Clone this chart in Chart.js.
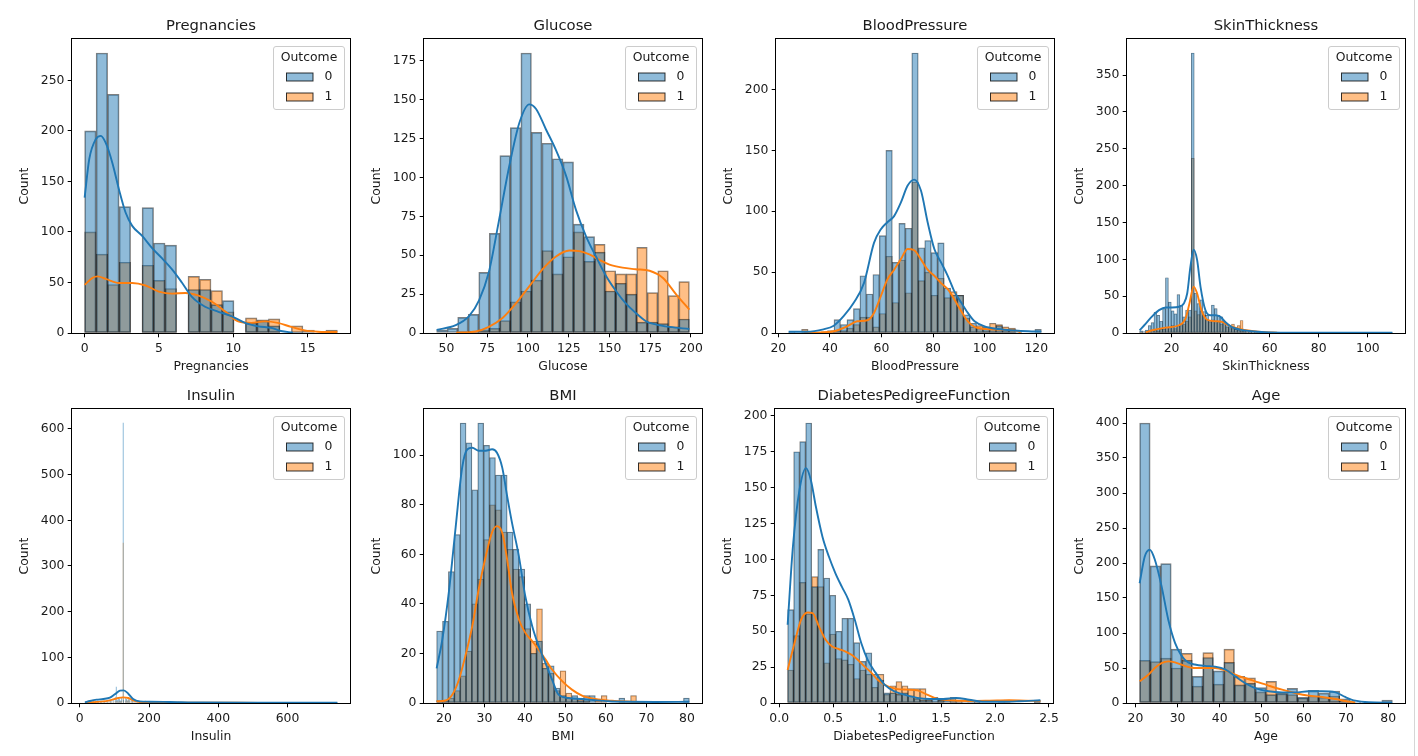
<!DOCTYPE html>
<html>
<head>
<meta charset="utf-8">
<script src="https://cdn.jsdelivr.net/npm/chart.js@4.4.1/dist/chart.umd.min.js"></script>
<style>
    html, body { margin: 0; padding: 0; background: #fff; }
    body { width: 1418px; height: 756px; position: relative; overflow: hidden; }
    canvas { position: absolute; }
    .edge { position: absolute; left: 1414px; top: 0; width: 1px; height: 756px; background: #d6d6d6; }
</style>
</head>
<body>
<div class="edge"></div>
<script>
// ── Datos ──
const outcomeLabels = ['0', '1'];

// Pregnancies: 22 bins entre 0 y 17
const pregRange  = [0, 17];
const pregBlue   = [200, 277, 236, 125, 0, 124, 89, 87, 0, 43, 43, 28, 32, 0, 10, 12, 7, 0, 1, 0, 0, 0];
const pregOrange = [100, 78, 48, 70, 0, 67, 52, 44, 0, 56, 53, 42, 21, 0, 15, 13, 14, 0, 7, 3, 0, 3];
const pregKdeBlueX   = [0, 0.31, 0.76, 1.09, 1.42, 1.87, 2.31, 2.76, 3.2, 3.87, 4.54, 5.2, 5.88, 6.54, 7.2, 8.1, 9.0, 9.9, 10.79, 11.68, 12.55, 13.2, 14];
const pregKdeBlueY   = [134, 172, 192, 195, 188, 168, 142, 119, 106, 96, 84, 74, 63, 50, 36, 26, 21, 16.5, 10, 6.6, 5, 2, 0.5];
const pregKdeOrangeX = [0, 0.53, 0.87, 1.42, 2.31, 3.2, 4.1, 4.99, 5.88, 6.77, 7.66, 8.55, 9.44, 10.33, 11.2, 12.1, 13.0, 13.9, 14.8, 15.7, 16.8, 17];
const pregKdeOrangeY = [47.6, 54.5, 56, 53.5, 49.5, 49.5, 47, 41, 39, 39.6, 37, 31, 21.5, 11.5, 10, 11.5, 10, 6, 2.6, 1.3, 1, 1];
const pregXTicks = [0, 5, 10, 15];
const pregYTicks = [0, 50, 100, 150, 200, 250];

// Glucose: 24 bins entre 44 y 199
const gluRange  = [44, 199];
const gluBlue   = [2, 3, 10, 12, 39, 64, 114, 132, 180, 129, 122, 112, 110, 70, 62, 52, 27, 32, 25, 7, 7, 6, 4, 9];
const gluOrange = [0, 0, 0, 1, 2, 3, 8, 20, 27, 34, 53, 38, 49, 65, 46, 57, 40, 38, 38, 55, 26, 40, 24, 33];
const gluKdeBlueX   = [44, 55.7, 64, 70, 76, 82, 88.5, 94.7, 100.8, 105, 111, 117, 123.4, 129.5, 135.7, 141.8, 148, 154, 160, 166, 172.5, 178.7, 187, 199];
const gluKdeBlueY   = [2, 5, 11, 21, 39, 71, 107, 135, 147, 144, 131, 118, 101, 79, 62, 49, 36.5, 27, 19, 13, 7.5, 5.4, 3.9, 2.6];
const gluKdeOrangeX = [56, 68, 76, 84.4, 92.6, 100.8, 109, 117, 125.4, 131.6, 137.7, 143.9, 150, 158, 166, 174.6, 182.8, 191, 199];
const gluKdeOrangeY = [0.2, 1, 4, 9.7, 19, 30, 41, 49, 53, 52.6, 50.5, 47, 44, 42, 41, 40, 35.4, 24.7, 15];
const gluXTicks = [50, 75, 100, 125, 150, 175, 200];
const gluYTicks = [0, 25, 50, 75, 100, 125, 150, 175];

// BloodPressure: 39 bins entre 24 y 122
const bpRange  = [24, 122];
const bpBlue   = [1, 0, 0, 0, 0, 1, 2, 11, 7, 11, 20, 47, 32, 48, 80, 150, 58, 90, 86, 230, 70, 76, 66, 74, 37, 31, 31, 15, 8, 4, 5, 4, 6, 3, 3, 1, 0, 0, 3];
const bpOrange = [0, 0, 3, 0, 0, 0, 1, 2, 2, 4, 7, 13, 13, 5, 16, 63, 25, 60, 33, 124, 43, 50, 31, 45, 29, 34, 31, 12, 5, 6, 2, 8, 7, 5, 4, 0, 0, 0, 0];
const bpKdeBlueX   = [24, 31, 37.5, 41.5, 45.4, 49.3, 53.2, 57.1, 59.7, 62.3, 64.9, 67.5, 70.1, 72.7, 75.3, 77.9, 80.5, 83.1, 85.7, 88.3, 90.9, 93.5, 96.1, 100, 105.2, 111.7, 116.9, 122];
const bpKdeBlueY   = [1, 1, 3, 6, 14, 25, 41, 74, 85, 91, 96, 107, 121, 126, 117, 91, 69, 58, 47, 34, 25, 16.5, 9.6, 5.5, 3.3, 2, 1.4, 1.1];
const bpKdeOrangeX = [30, 36.2, 41.5, 46.7, 50.6, 54.5, 57.1, 59.7, 62.3, 64.9, 67.5, 70.1, 72.7, 75.3, 77.9, 80.5, 83.1, 85.7, 88.3, 90.9, 93.5, 96.1, 100, 105.2, 111.7, 114];
const bpKdeOrangeY = [0.3, 0.5, 1.4, 5.5, 9.6, 10.5, 16.5, 30, 44, 52, 60.5, 69, 68, 60.5, 52, 47, 41, 36, 27.5, 18, 9.6, 5, 3.3, 2.8, 2.2, 0.5];
const bpXTicks = [20, 40, 60, 80, 100, 120];
const bpYTicks = [0, 50, 100, 150, 200];

// SkinThickness: 88 bins entre 7 y 110
const skinRange  = [7, 110];
const skinBlue   = [3, 2, 4, 10, 14, 28, 24, 16, 33, 75,
                    42, 30, 26, 52, 38, 22, 31, 31, 380, 54,
                    40, 45, 29, 24, 17, 38, 33, 24, 22, 15,
                    10, 8, 6, 5, 4, 3, 3, 2, 3, 1,
                    2, 1, 0, 1, 0, 1, 0, 1, 0, 0,
                    0, 0, 0, 0, 0, 0, 0, 0, 0, 0,
                    0, 0, 0, 0, 0, 0, 0, 0, 0, 0,
                    0, 0, 0, 0, 0, 0, 0, 0, 1, 0,
                    0, 0, 0, 0, 0, 0, 0, 1];
const skinOrange = [1, 0, 1, 2, 2, 4, 3, 5, 5, 8,
                    6, 10, 6, 10, 10, 12, 16, 22, 237, 30,
                    25, 30, 24, 18, 15, 18, 14, 15, 12, 16,
                    8, 6, 12, 5, 10, 17, 4, 2, 2, 1,
                    1, 0, 0, 1, 0, 0, 0, 0, 0, 0,
                    0, 0, 0, 0, 0, 0, 0, 0, 0, 0,
                    0, 0, 0, 0, 0, 0, 0, 0, 0, 0,
                    0, 0, 0, 0, 0, 0, 0, 0, 0, 0,
                    0, 0, 0, 0, 0, 0, 0, 0];
const skinKdeBlueX   = [7, 9.5, 12.2, 14.9, 17.6, 20.3, 23, 25, 26.4, 27.7, 29, 30.4, 31.8, 33.8, 35.8, 37.8, 39.9, 41.9, 44.6, 48, 52.7, 58.1, 66.2, 80, 95, 110];
const skinKdeBlueY   = [3.7, 12.8, 23, 31, 34.7, 34.7, 35.6, 40, 54, 90, 113, 99.5, 63, 31, 24, 24, 22, 15, 8, 4.6, 2.3, 1, 0.5, 0.3, 0.3, 0.3];
const skinKdeOrangeX = [9.5, 12.2, 17.6, 23, 25.7, 27.3, 29, 30.4, 32.2, 34.5, 37.8, 40.5, 43.2, 47.3, 52.7, 58.1, 63];
const skinKdeOrangeY = [1, 3.7, 7.3, 10.5, 19.6, 40, 63, 54, 31, 18, 16, 15, 10.5, 6, 2.7, 1, 0.5];
const skinXTicks = [20, 40, 60, 80, 100];
const skinYTicks = [0, 50, 100, 150, 200, 250, 300, 350];

// Insulin: bins de ancho 1 entre 14 y 744, solo los no vacíos
const insRange   = [14, 744];
const insCenters = [15.5, 18.5, 24.5, 30.5, 33.5, 39.5, 45.5, 51.5, 54.5, 60.5,
                    63.5, 69.5, 72.5, 78.5, 81.5, 87.5, 90.5, 96.5, 102.5, 105.5,
                    108.5, 111.5, 114.5, 117.5, 120.5, 125.5, 126.5, 132.5, 135.5, 138.5,
                    141.5, 144.5, 150.5, 153.5, 159.5, 165.5, 171.5, 177.5, 183.5, 189.5,
                    198.5, 207.5, 219.5, 231.5, 249.5, 270.5, 285.5, 306.5, 345.5, 405.5,
                    489.5, 549.5, 593.5, 743.5];
const insBlue    = [2, 3, 2, 3, 1, 4, 3, 5, 3, 4,
                    3, 5, 4, 6, 3, 7, 4, 8, 12, 35,
                    6, 10, 8, 5, 12, 613, 6, 10, 8, 5,
                    12, 6, 7, 4, 5, 3, 4, 2, 3, 2,
                    2, 3, 2, 2, 1, 1, 2, 1, 1, 1,
                    1, 0, 1, 1];
const insOrange  = [0, 1, 0, 1, 0, 1, 2, 1, 1, 2,
                    0, 1, 2, 2, 1, 3, 2, 2, 3, 4,
                    3, 2, 4, 3, 4, 350, 5, 4, 7, 4,
                    6, 3, 5, 3, 6, 4, 3, 3, 2, 4,
                    2, 1, 1, 2, 1, 0, 1, 0, 1, 0,
                    0, 1, 0, 0];
const insKdeBlueX   = [15, 29.5, 49, 68, 87, 101, 116, 127, 140, 154, 173, 202, 260, 356, 549, 744];
const insKdeBlueY   = [1.5, 4.4, 7.3, 8.8, 11.7, 19, 27, 27.7, 20.4, 8.8, 3.6, 2.9, 2.2, 1, 0.7, 0.7];
const insKdeOrangeX = [15, 29.5, 58, 87, 111, 125, 140, 154, 173, 212, 308, 453, 600];
const insKdeOrangeY = [0.8, 1.5, 2.9, 5.8, 11, 12.4, 11, 5.8, 2.2, 1, 0.7, 0.4, 0.3];
const insXTicks = [0, 200, 400, 600];
const insYTicks = [0, 100, 200, 300, 400, 500, 600];

// BMI: 43 bins entre 18.2 y 80.6
const bmiRange  = [18.2, 80.6];
const bmiBlue   = [29, 33, 53, 68, 113, 105, 86, 113, 104, 99, 92, 92, 69, 62, 54, 40, 20, 25, 14, 15, 6, 3, 2, 3, 1, 3, 3, 0, 0, 0, 0, 2, 0, 0, 0, 0, 0, 0, 0, 0, 0, 0, 2];
const bmiOrange = [1, 1, 2, 5, 11, 21, 40, 50, 66, 80, 78, 69, 62, 54, 51, 30, 25, 38, 16, 12, 5, 13, 4, 2, 2, 1, 0, 1, 3, 0, 0, 0, 0, 3, 0, 0, 0, 0, 0, 0, 0, 0, 0];
const bmiKdeBlueX   = [18.2, 19.6, 21.2, 22.9, 24.5, 25.8, 27, 28.6, 30.3, 31.9, 33.1, 34.4, 35.6, 36.8, 38.5, 40.1, 41.8, 43.4, 45.1, 46.7, 48.3, 50.8, 54.1, 57.4, 60.7, 65.6, 72.2, 80.6];
const bmiKdeBlueY   = [14, 25.6, 44.5, 71, 95, 102.4, 103, 101.8, 101.8, 102.4, 101, 95, 83.6, 72.8, 59.3, 43, 31, 23, 16, 9.4, 3.4, 2, 1.6, 1.1, 0.7, 0.5, 0.4, 0.5];
const bmiKdeOrangeX = [18.2, 20.4, 22.1, 23.7, 25.3, 27, 28.6, 30.3, 31.9, 33.1, 34.4, 35.6, 36.8, 38.5, 40.1, 41.8, 43.4, 45.1, 46.7, 49.2, 51.6, 54.1, 57.4, 61.5, 66.4, 69.7];
const bmiKdeOrangeY = [0.7, 1, 3.4, 9.4, 19, 31, 46, 59, 69, 71.4, 68.7, 58, 44.5, 33.7, 28.3, 25, 21.6, 17.5, 13.5, 8.8, 5.4, 3, 1.6, 0.9, 0.5, 0.3];
const bmiXTicks = [20, 30, 40, 50, 60, 70, 80];
const bmiYTicks = [0, 20, 40, 60, 80, 100];

// DiabetesPedigreeFunction: 42 bins entre 0.078 y 2.42
const dpfRange  = [0.078, 2.42];
const dpfBlue   = [65, 175, 182, 195, 81, 107, 87, 75, 50, 59, 59, 42, 29, 35, 20, 16, 7, 7, 6, 7, 5, 3, 2, 2, 4, 2, 2, 4, 1, 1, 2, 1, 0, 0, 0, 1, 0, 0, 0, 0, 0, 1];
const dpfOrange = [23, 47, 84, 62, 88, 81, 28, 48, 31, 30, 27, 17, 23, 20, 11, 20, 6, 12, 15, 12, 10, 10, 10, 3, 1, 2, 0, 1, 1, 0, 0, 1, 0, 0, 0, 0, 2, 0, 0, 0, 0, 2];
const dpfKdeBlueX   = [0.078, 0.127, 0.188, 0.248, 0.294, 0.339, 0.4, 0.46, 0.52, 0.58, 0.64, 0.7, 0.76, 0.82, 0.885, 0.976, 1.067, 1.158, 1.28, 1.4, 1.52, 1.64, 1.76, 1.88, 2.07, 2.22, 2.42];
const dpfKdeBlueY   = [54.5, 109, 148.5, 163.6, 155, 137, 116, 102, 90.5, 81, 72, 58, 41.8, 30, 22, 12.8, 8.1, 5.8, 3.5, 2.8, 2.8, 3.5, 2.3, 0.9, 0.9, 1.2, 1.9];
const dpfKdeOrangeX = [0.078, 0.142, 0.203, 0.264, 0.309, 0.37, 0.43, 0.49, 0.55, 0.61, 0.67, 0.73, 0.79, 0.855, 0.915, 1.006, 1.097, 1.19, 1.28, 1.37, 1.46, 1.58, 1.76, 1.95, 2.13, 2.28, 2.42];
const dpfKdeOrangeY = [23, 41.8, 58, 63, 62.6, 53, 44, 39.4, 37.6, 36, 33.6, 30, 25.5, 21, 16, 11.6, 9.7, 9.3, 8.8, 5.8, 3, 1.9, 1.4, 1.6, 1.9, 1.6, 1.4];
const dpfXTicks = [0, 0.5, 1, 1.5, 2, 2.5];
const dpfYTicks = [0, 25, 50, 75, 100, 125, 150, 175, 200];

// Age: 24 bins entre 21 y 81
const ageRange  = [21, 81];
const ageBlue   = [400, 196, 199, 77, 61, 38, 65, 46, 58, 26, 28, 22, 12, 14, 21, 8, 18, 14, 17, 6, 1, 0, 0, 4];
const ageOrange = [61, 59, 64, 50, 71, 24, 72, 27, 77, 38, 36, 16, 31, 13, 12, 7, 10, 8, 10, 3, 0, 0, 0, 0];
const ageKdeBlueX   = [21, 22.2, 23.4, 24.6, 26.2, 27.8, 29.4, 31, 32.5, 34.1, 36.5, 38.9, 41.3, 43.7, 46, 48.4, 51.6, 54.8, 57.9, 61.1, 64.3, 67.5, 69.8, 72.2, 75.4, 81];
const ageKdeBlueY   = [171, 209, 219, 205, 167, 119, 86, 67, 58, 55, 53, 52, 48, 38, 28.6, 21.4, 16.7, 15.2, 15.2, 16.7, 16.7, 15.2, 8.6, 3.3, 1, 0.5];
const ageKdeOrangeX = [21, 23, 24.6, 26.2, 27.8, 29.4, 31.7, 34.1, 36.5, 38.9, 41.3, 43.7, 46, 48.4, 51.6, 54.8, 57.9, 61.1, 64.3, 67.5, 69.8, 72.2];
const ageKdeOrangeY = [31, 40, 50, 57, 59.5, 58, 53, 50, 50, 50, 46.7, 40.5, 35.7, 31, 24.8, 19, 14.3, 10.5, 8.6, 5.7, 2.9, 1];
const ageXTicks = [20, 30, 40, 50, 60, 70, 80];
const ageYTicks = [0, 50, 100, 150, 200, 250, 300, 350, 400];

// ── Estilo ──
const BLUE   = '31, 119, 180';
const ORANGE = '255, 127, 14';
const FONT   = '"DejaVu Sans", sans-serif';
const TEXT   = '#1a1a1a';
const AX_W = 278, AX_H = 294;

function centersOf(range, n) {
    const w = (range[1] - range[0]) / n;
    return Array.from({ length: n }, (_, i) => range[0] + w * (i + 0.5));
}

const panels = [
    { title: 'Pregnancies', left: 72, top: 39, range: pregRange, blue: pregBlue, orange: pregOrange,
      kb: [pregKdeBlueX, pregKdeBlueY], ko: [pregKdeOrangeX, pregKdeOrangeY], xt: pregXTicks, yt: pregYTicks, edge: 1 },
    { title: 'Glucose', left: 424, top: 39, range: gluRange, blue: gluBlue, orange: gluOrange,
      kb: [gluKdeBlueX, gluKdeBlueY], ko: [gluKdeOrangeX, gluKdeOrangeY], xt: gluXTicks, yt: gluYTicks, edge: 1 },
    { title: 'BloodPressure', left: 776, top: 39, range: bpRange, blue: bpBlue, orange: bpOrange,
      kb: [bpKdeBlueX, bpKdeBlueY], ko: [bpKdeOrangeX, bpKdeOrangeY], xt: bpXTicks, yt: bpYTicks, edge: 0.7 },
    { title: 'SkinThickness', left: 1127, top: 39, range: skinRange, blue: skinBlue, orange: skinOrange,
      kb: [skinKdeBlueX, skinKdeBlueY], ko: [skinKdeOrangeX, skinKdeOrangeY], xt: skinXTicks, yt: skinYTicks, edge: 0.3 },
    { title: 'Insulin', left: 72, top: 409, range: insRange, centers: insCenters, blue: insBlue, orange: insOrange,
      kb: [insKdeBlueX, insKdeBlueY], ko: [insKdeOrangeX, insKdeOrangeY], xt: insXTicks, yt: insYTicks, edge: 0 },
    { title: 'BMI', left: 424, top: 409, range: bmiRange, blue: bmiBlue, orange: bmiOrange,
      kb: [bmiKdeBlueX, bmiKdeBlueY], ko: [bmiKdeOrangeX, bmiKdeOrangeY], xt: bmiXTicks, yt: bmiYTicks, edge: 0.6 },
    { title: 'DiabetesPedigreeFunction', left: 775, top: 409, range: dpfRange, blue: dpfBlue, orange: dpfOrange,
      kb: [dpfKdeBlueX, dpfKdeBlueY], ko: [dpfKdeOrangeX, dpfKdeOrangeY], xt: dpfXTicks, yt: dpfYTicks, edge: 0.7, decimals: 1 },
    { title: 'Age', left: 1127, top: 409, range: ageRange, blue: ageBlue, orange: ageOrange,
      kb: [ageKdeBlueX, ageKdeBlueY], ko: [ageKdeOrangeX, ageKdeOrangeY], xt: ageXTicks, yt: ageYTicks, edge: 1 },
];

// ── Marco, título y leyenda al estilo matplotlib ──
const decoPlugin = {
    id: 'deco',
    afterDraw(chart, args, opts) {
        const { ctx, chartArea: a } = chart;
        ctx.save();
        ctx.strokeStyle = '#000';
        ctx.lineWidth = 1;
        ctx.strokeRect(a.left - 0.5, a.top - 0.5, a.right - a.left + 1, a.bottom - a.top + 1);

        ctx.fillStyle = TEXT;
        ctx.font = `14.8px ${FONT}`;
        ctx.textAlign = 'center';
        ctx.textBaseline = 'middle';
        ctx.fillText(opts.title, (a.left + a.right) / 2, a.top - 12.5);

        // leyenda
        const w = 71, h = 63, x = a.right - 6 - w, y = a.top + 7;
        ctx.beginPath();
        ctx.roundRect(x + 0.5, y + 0.5, w, h, 2.5);
        ctx.fillStyle = 'rgba(255,255,255,0.8)';
        ctx.fill();
        ctx.strokeStyle = '#cccccc';
        ctx.stroke();

        ctx.fillStyle = TEXT;
        ctx.font = `12.4px ${FONT}`;
        ctx.fillText('Outcome', x + w / 2 + 0.5, y + 11.5);
        const colors = [BLUE, ORANGE];
        outcomeLabels.forEach((lab, i) => {
            const cy = y + 31 + i * 20;
            ctx.fillStyle = `rgba(${colors[i]}, 0.5)`;
            ctx.fillRect(x + 13.5, cy - 4, 26.5, 8);
            ctx.strokeStyle = 'rgba(0,0,0,0.8)';
            ctx.strokeRect(x + 13.5, cy - 4, 26.5, 8);
            ctx.fillStyle = TEXT;
            ctx.textAlign = 'left';
            ctx.fillText(lab, x + 51.5, cy);
            ctx.textAlign = 'center';
        });
        ctx.restore();
    }
};

function renderPanel(p) {
    const canvas = document.createElement('canvas');
    canvas.width = 70 + AX_W + 10;
    canvas.height = 39 + AX_H + 46;
    canvas.style.left = (p.left - 70) + 'px';
    canvas.style.top = (p.top - 39) + 'px';
    document.body.appendChild(canvas);

    const xs = p.centers || centersOf(p.range, p.blue.length);
    const bars = counts => counts.map((c, i) => ({ x: xs[i], y: c }));
    const line = ([lx, ly]) => lx.map((x, i) => ({ x, y: ly[i] }));
    const ymax = Math.max(...p.blue, ...p.orange, ...p.kb[1], ...p.ko[1]) * 1.05;
    const margin = (p.range[1] - p.range[0]) * 0.05;

    const barStyle = {
        type: 'bar', grouped: false, barPercentage: 1, categoryPercentage: 1,
        borderWidth: p.edge, borderColor: 'rgba(0,0,0,0.5)', borderSkipped: false,
    };
    const tickFont = { family: FONT, size: 12.4 };

    new Chart(canvas, {
        type: 'bar',
        data: {
            datasets: [
                { ...barStyle, data: bars(p.blue),   backgroundColor: `rgba(${BLUE}, 0.5)`,   order: 1 },
                { ...barStyle, data: bars(p.orange), backgroundColor: `rgba(${ORANGE}, 0.5)`, order: 2 },
                { type: 'line', data: line(p.ko), borderColor: `rgb(${ORANGE})`, borderWidth: 1.9,
                  pointRadius: 0, cubicInterpolationMode: 'monotone', fill: false, order: -1 },
                { type: 'line', data: line(p.kb), borderColor: `rgb(${BLUE})`, borderWidth: 1.9,
                  pointRadius: 0, cubicInterpolationMode: 'monotone', fill: false, order: -2 },
            ]
        },
        options: {
            responsive: false,
            animation: false,
            events: [],
            layout: { padding: { left: 0, top: 39, right: 10, bottom: 0 } },
            plugins: {
                legend: { display: false },
                tooltip: { enabled: false },
                deco: { title: p.title },
            },
            scales: {
                x: {
                    type: 'linear', position: 'bottom', offset: false,
                    min: p.range[0] - margin, max: p.range[1] + margin,
                    afterBuildTicks: ax => { ax.ticks = p.xt.map(v => ({ value: v })); },
                    afterFit: ax => { ax.height = 46; },
                    ticks: {
                        autoSkip: false, maxRotation: 0, padding: 3.6, color: TEXT, font: tickFont,
                        callback: v => p.decimals ? v.toFixed(p.decimals) : String(v),
                    },
                    grid: { display: true, drawOnChartArea: false, drawTicks: true, tickLength: 4.3, tickColor: '#000', offset: false },
                    border: { display: false },
                    title: { display: true, text: p.title, color: TEXT, font: tickFont, padding: { top: 0, bottom: 5 } },
                },
                y: {
                    type: 'linear', min: 0, max: ymax,
                    afterBuildTicks: ax => { ax.ticks = p.yt.map(v => ({ value: v })); },
                    afterFit: ax => { ax.width = 70; },
                    ticks: { padding: 3.3, color: TEXT, font: tickFont },
                    grid: { display: true, drawOnChartArea: false, drawTicks: true, tickLength: 4.3, tickColor: '#000' },
                    border: { display: false },
                    title: { display: true, text: 'Count', color: TEXT, font: tickFont, padding: { top: 15.5, bottom: 0 } },
                }
            }
        },
        plugins: [decoPlugin]
    });
}

panels.forEach(renderPanel);
</script>
</body>
</html>
